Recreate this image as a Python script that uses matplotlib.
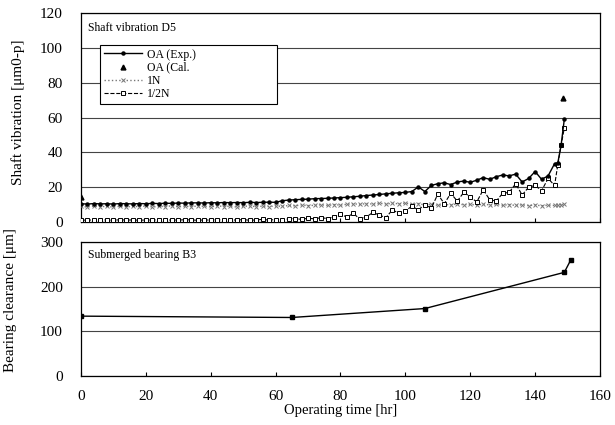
import matplotlib
matplotlib.use("Agg")
import matplotlib.pyplot as plt

plt.rcParams['font.family'] = ['Liberation Serif', 'DejaVu Serif']
plt.rcParams['mathtext.fontset'] = 'stix'

# ---------------- data ----------------
hours = [0, 2, 4, 6, 8, 10, 12, 14, 16, 18, 20, 22, 24, 26, 28, 30, 32, 34, 36, 38,
         40, 42, 44, 46, 48, 50, 52, 54, 56, 58, 60, 62, 64, 66, 68, 70, 72, 74, 76, 78,
         80, 82, 84, 86, 88, 90, 92, 94, 96, 98, 100, 102, 104, 106, 108, 110, 112, 114,
         116, 118, 120, 122, 124, 126, 128, 130, 132, 134, 136, 138, 140, 142, 144, 146,
         147, 148, 149]

oa_exp = [10.5, 10.3, 10.6, 10.4, 10.5, 10.3, 10.6, 10.5, 10.4, 10.6, 10.5, 10.7, 10.6, 10.8,
          10.7, 10.9, 10.8, 11.0, 11.0, 10.9, 11.1, 11.0, 11.2, 11.1, 11.2, 11.1, 11.3, 11.2,
          11.3, 11.4, 11.3, 12.2, 12.6, 12.8, 13.0, 13.1, 13.4, 13.5, 13.6, 13.8, 14.0, 14.2,
          14.5, 14.8, 15.2, 15.5, 15.8, 16.2, 16.5, 16.8, 17.0, 17.5, 20.2, 17.5, 21.0, 22.0,
          22.5, 21.5, 23.0, 23.5, 22.8, 24.0, 25.5, 24.5, 26.0, 27.0, 26.5, 27.5, 23.0, 25.0,
          29.0, 24.5, 26.5, 33.5, 34.0, 44.0, 59.0]

n1 = [9.0, 8.6, 9.2, 8.8, 9.0, 8.5, 9.1, 8.7, 9.0, 8.8, 9.2, 8.6, 9.0, 8.9, 9.3, 8.7, 9.1, 8.8,
      9.2, 9.0, 8.7, 9.3, 8.9, 9.1, 8.6, 9.0, 9.2, 8.8, 9.1, 8.9, 9.2, 9.0, 9.5, 9.3, 9.8, 9.4,
      9.6, 9.9, 9.5, 10.0, 9.7, 10.2, 10.5, 10.1, 10.6, 10.3, 10.8, 10.4, 10.7, 10.5, 10.9,
      10.3, 10.6, 9.8, 10.2, 9.6, 10.1, 9.8, 10.4, 9.9, 10.2, 9.7, 10.3, 9.8, 10.1, 9.6, 10.0,
      9.5, 9.9, 9.4, 9.8, 9.3, 9.7, 9.5, 9.8, 10.0, 10.2]

n_half = [1.2, 1.0, 1.3, 1.1, 1.2, 1.0, 1.3, 1.1, 1.2, 1.0, 1.2, 1.1, 1.3, 1.0, 1.2, 1.1, 1.3,
          1.2, 1.0, 1.2, 1.1, 1.3, 1.0, 1.2, 1.1, 1.4, 1.0, 1.2, 1.5, 1.1, 1.4, 1.2, 1.8, 2.0,
          1.5, 2.2, 1.8, 2.5, 2.0, 3.0, 4.5, 2.8, 5.0, 1.5, 3.0, 5.5, 4.0, 2.5, 7.0, 5.0, 6.5,
          9.0, 7.0, 10.0, 8.0, 16.0, 10.5, 16.5, 12.0, 17.0, 14.5, 11.5, 18.5, 12.8, 12.0, 16.5,
          17.0, 22.0, 15.5, 20.0, 21.0, 18.0, 25.0, 21.0, 33.0, 44.0, 54.0]

cal_hours = [0, 148.5]
oa_cal = [14.5, 71.0]

clr_hours = [0, 65, 106, 149, 151]
clearance = [134, 131, 151, 232, 260]

# ---------------- figure ----------------
fig = plt.figure(figsize=(6.15, 4.25), dpi=100)
ax1 = fig.add_axes([0.1317, 0.4776, 0.8439, 0.4918])
ax2 = fig.add_axes([0.1317, 0.1153, 0.8439, 0.3153])

# top panel
ax1.plot(hours, oa_exp, '-', color='black', lw=1.0, marker='o', ms=2.2, label='OA (Exp.)', zorder=4)
ax1.plot(cal_hours, oa_cal, linestyle='none', color='black', marker='^', ms=3.5, label='OA (Cal.', zorder=5)
ax1.plot(hours, n1, ':', color='#777777', lw=1.0, marker='x', ms=2.5, mew=0.7, label='1N', zorder=3)
ax1.plot(hours, n_half, '--', color='black', lw=0.8, marker='s', ms=3.5, mfc='white', mew=0.7,
         label='1/2N', zorder=3)

ax1.set_xlim(0, 160)
ax1.set_ylim(0, 120)
ax1.set_yticks([0, 20, 40, 60, 80, 100, 120])
ax1.set_xticks([0, 20, 40, 60, 80, 100, 120, 140, 160])
ax1.tick_params(axis='x', direction='in', length=3, labelbottom=False)
ax1.tick_params(axis='y', length=0, pad=13, labelsize=11)
ax1.grid(axis='y', color='#444444', lw=0.8)
ax1.set_axisbelow(True)
ax1.set_ylabel('Shaft vibration [μm0-p]', fontsize=11)
ax1.yaxis.set_label_coords(-0.108, 0.526)
ax1.text(0.013, 0.93, 'Shaft vibration D5', transform=ax1.transAxes, fontsize=8.5, va='center', ha='left')

leg = ax1.legend(loc='upper left', bbox_to_anchor=(0.037, 0.585, 0.341, 0.262), mode='expand',
                 borderaxespad=0, fontsize=8.5, frameon=True, fancybox=False, edgecolor='black',
                 framealpha=1, handlelength=3.2, handletextpad=0.5, borderpad=0.3, labelspacing=0.1)
leg.get_frame().set_linewidth(0.8)

# bottom panel
ax2.plot(clr_hours, clearance, '-', color='black', lw=1.0, marker='s', ms=3.0)
ax2.set_xlim(0, 160)
ax2.set_ylim(0, 300)
ax2.set_yticks([0, 100, 200, 300])
ax2.set_xticks([0, 20, 40, 60, 80, 100, 120, 140, 160])
ax2.tick_params(axis='x', direction='in', length=3, pad=10, labelsize=11)
ax2.tick_params(axis='y', length=0, pad=13, labelsize=11)
ax2.grid(axis='y', color='#444444', lw=0.8)
ax2.set_axisbelow(True)
ax2.set_ylabel('Bearing clearance [μm]', fontsize=11)
ax2.yaxis.set_label_coords(-0.123, 0.567)
ax2.set_xlabel('Operating time [hr]', fontsize=10.5, labelpad=1)
ax2.text(0.013, 0.90, 'Submerged bearing B3', transform=ax2.transAxes, fontsize=8.5, va='center', ha='left')

for ax in (ax1, ax2):
    for s in ax.spines.values():
        s.set_linewidth(0.9)
        s.set_color('black')

fig.savefig('out.png', dpi=100)
